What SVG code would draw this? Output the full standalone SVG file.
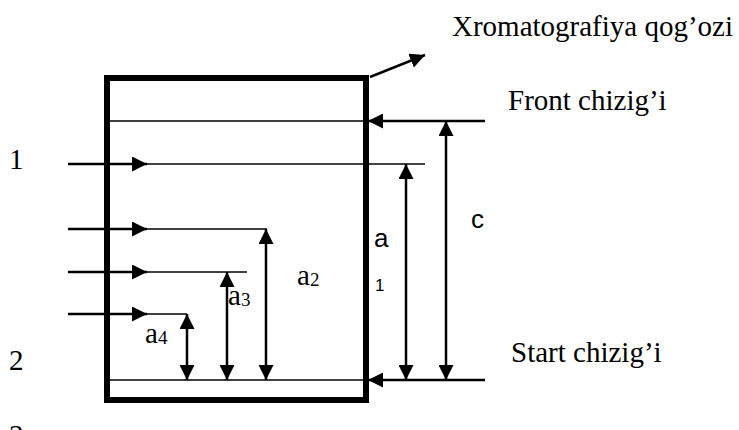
<svg xmlns="http://www.w3.org/2000/svg" width="739" height="430" viewBox="0 0 739 430">
<style>
.t{font-family:"Liberation Serif","Times New Roman",serif;font-size:29px;fill:#000}
.s{font-family:"Liberation Sans",Arial,sans-serif;fill:#000}
.ln{stroke:#000;stroke-width:1.6;fill:none}
.ar{stroke:#000;stroke-width:2.5;fill:none}
</style>
<defs>
<marker id="ah" viewBox="0 0 15 15" refX="15" refY="7.5" markerWidth="15" markerHeight="15" markerUnits="userSpaceOnUse" orient="auto-start-reverse">
<path d="M0,0 L15,7.5 L0,15 z" fill="#000"/>
</marker>
</defs>
<rect width="739" height="430" fill="#fff"/>
<g id="paper">
<rect x="107" y="78" width="259" height="322" fill="none" stroke="#000" stroke-width="6"/>
</g>
<g id="lines">
<line class="ln" x1="110" y1="121" x2="485" y2="121"/>
<line class="ln" x1="110" y1="380" x2="485" y2="380"/>
<line class="ln" x1="147" y1="164" x2="425" y2="164"/>
<line class="ln" x1="147" y1="229" x2="267" y2="229"/>
<line class="ln" x1="147" y1="272" x2="247" y2="272"/>
<line class="ln" x1="147" y1="314" x2="187" y2="314"/>
</g>
<g id="connectors">
<line class="ar" x1="68" y1="164" x2="147" y2="164" marker-end="url(#ah)"/>
<line class="ar" x1="68" y1="229" x2="147" y2="229" marker-end="url(#ah)"/>
<line class="ar" x1="68" y1="272" x2="147" y2="272" marker-end="url(#ah)"/>
<line class="ar" x1="68" y1="314" x2="147" y2="314" marker-end="url(#ah)"/>
<line class="ar" x1="485" y1="121" x2="368" y2="121" marker-end="url(#ah)"/>
<line class="ar" x1="485" y1="380" x2="368" y2="380" marker-end="url(#ah)"/>
<line class="ar" x1="370" y1="77" x2="425" y2="55" marker-end="url(#ah)"/>
<line class="ar" x1="266" y1="229" x2="266" y2="380" marker-start="url(#ah)" marker-end="url(#ah)"/>
<line class="ar" x1="227" y1="272" x2="227" y2="380" marker-start="url(#ah)" marker-end="url(#ah)"/>
<line class="ar" x1="187" y1="314" x2="187" y2="380" marker-start="url(#ah)" marker-end="url(#ah)"/>
<line class="ar" x1="406" y1="164" x2="406" y2="380" marker-start="url(#ah)" marker-end="url(#ah)"/>
<line class="ar" x1="446" y1="121" x2="446" y2="380" marker-start="url(#ah)" marker-end="url(#ah)"/>
</g>
<g id="labels">
<text class="t" x="452" y="36">Xromatografiya qog’ozi</text>
<text class="t" x="508" y="110">Front chizig’i</text>
<text class="t" x="511" y="362">Start chizig’i</text>
<text class="t" x="9" y="169">1</text>
<text class="t" x="9" y="370">2</text>
<text class="t" x="9" y="445">3</text>
<text class="t" x="297" y="285">a<tspan font-size="19" dy="1">2</tspan></text>
<text class="t" x="228" y="305">a<tspan font-size="19" dy="1">3</tspan></text>
<text class="t" x="145" y="343">a<tspan font-size="19" dy="1">4</tspan></text>
<text class="s" x="374" y="247" font-size="26">a</text>
<text class="s" x="375" y="291" font-size="17">1</text>
<text class="s" x="471" y="228" font-size="26">c</text>
</g>
</svg>
